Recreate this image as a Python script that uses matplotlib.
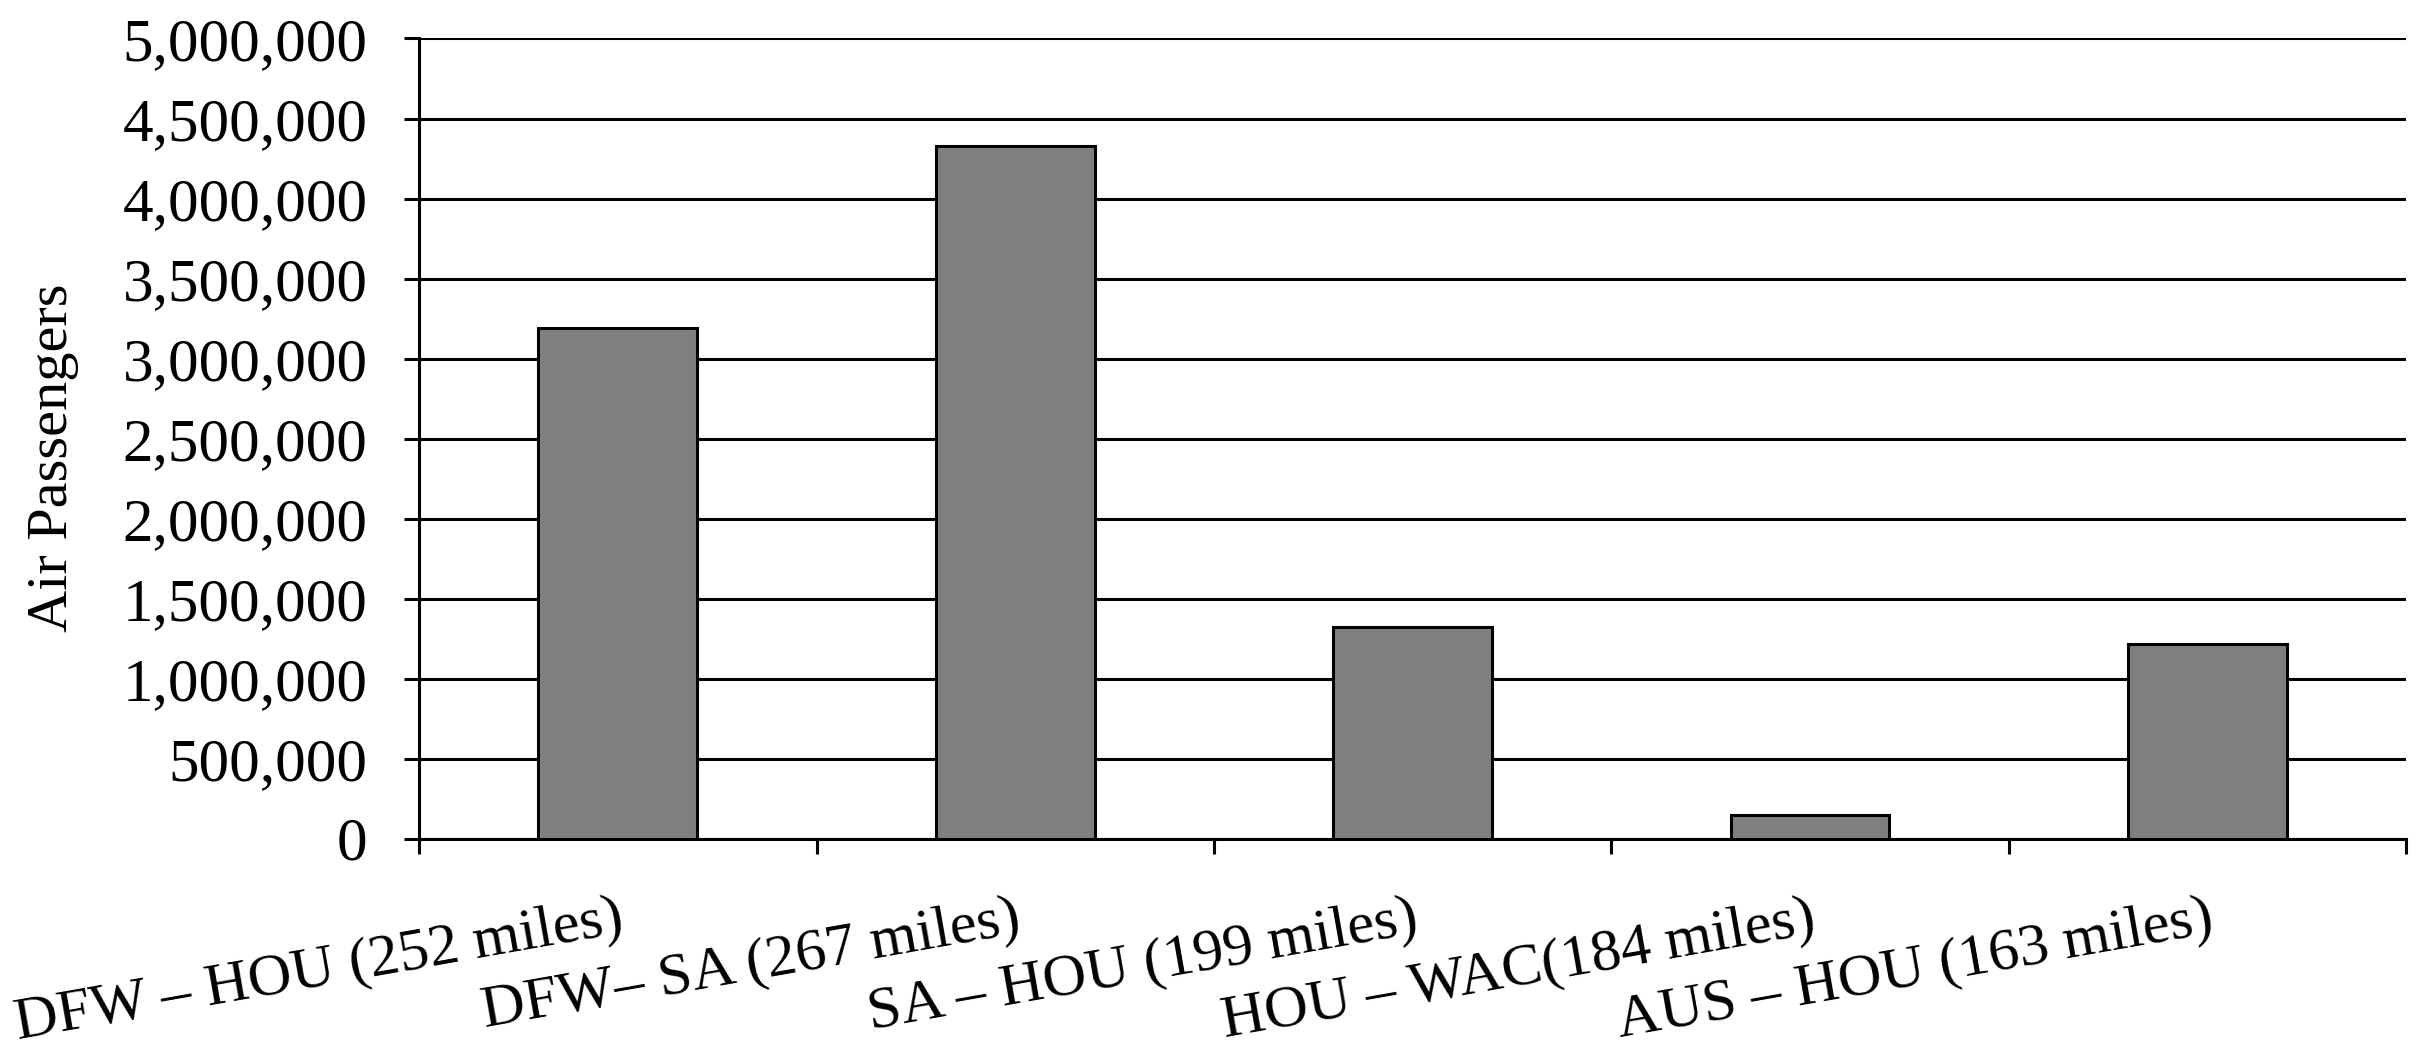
import numpy as np
import matplotlib
matplotlib.use("Agg")
import matplotlib.pyplot as plt
from matplotlib.ticker import StrMethodFormatter

# city pairs and annual air passengers
routes = ['DFW \u2013 HOU (252 miles)', 'DFW\u2013 SA (267 miles)', 'SA \u2013 HOU (199 miles)',
          'HOU \u2013 WAC(184 miles)', 'AUS \u2013 HOU (163 miles)']
passengers = [3190000, 4330000, 1325000, 150000, 1215000]
yticks = np.arange(0, 5000001, 500000)

plt.rcParams['font.family'] = ['Liberation Serif', 'DejaVu Serif']

fig = plt.figure(figsize=(24.17, 10.49), dpi=100)
ax = fig.add_axes([0.1734, 0.2006, 0.8221, 0.7627])

x = np.arange(len(routes)) + 0.5
ax.bar(x, passengers, width=0.4, color='#7f7f7f', edgecolor='black', linewidth=2.2, zorder=3)

ax.set_xlim(0, len(routes))
ax.set_ylim(0, 5000000)
ax.set_yticks(yticks)
ax.yaxis.set_major_formatter(StrMethodFormatter('{x:,.0f}'))
ax.grid(axis='y', color='black', linewidth=2.2)
ax.set_axisbelow(True)

# category boundaries get the tick marks, labels sit at the centers
ax.set_xticks(np.arange(len(routes) + 1))
ax.set_xticklabels([])
ax.set_xticks(x, minor=True)
ax.set_xticklabels(routes, minor=True, rotation=10, ha='right', rotation_mode='anchor')
ax.tick_params(axis='x', which='minor', length=0, pad=38, labelsize=43.5)
ax.tick_params(axis='x', which='major', length=11, width=2.2, direction='out')
ax.tick_params(axis='y', length=11, width=2.2, pad=26, labelsize=44)

for s in ['top', 'right']:
    ax.spines[s].set_visible(False)
for s in ['left', 'bottom']:
    ax.spines[s].set_linewidth(2.2)

ax.set_ylabel('Air Passengers', fontsize=42)
ax.yaxis.set_label_coords(-0.171, 0.476)

fig.savefig('out.png', dpi=100, facecolor='white')
